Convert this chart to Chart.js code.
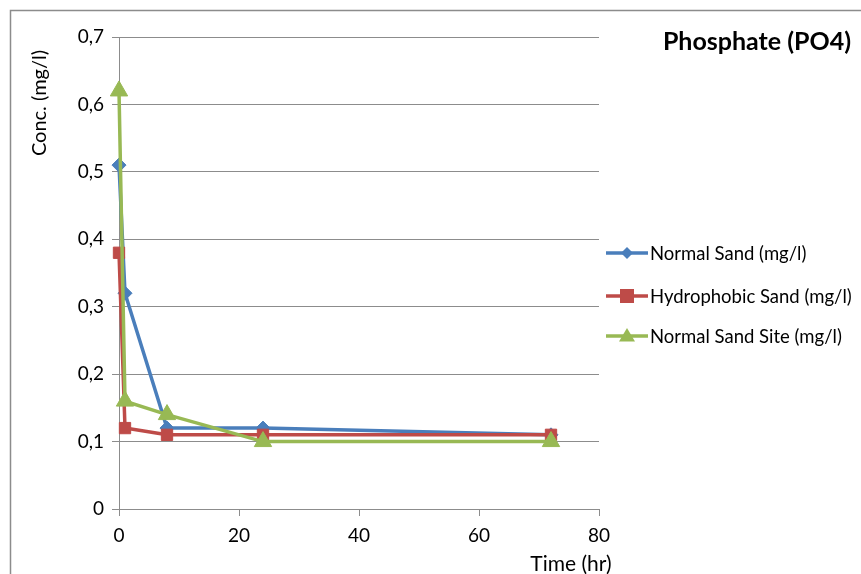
<!DOCTYPE html>
<html><head><meta charset="utf-8">
<script src="https://cdn.jsdelivr.net/npm/chart.js@4.4.1/dist/chart.umd.min.js"></script>
<style>html,body{margin:0;padding:0;background:#fff}#wrap{width:861px;height:574px}</style>
</head><body><div id="wrap"><canvas id="c" width="861" height="574"></canvas></div>
<script>
const times = [0, 1, 8, 24, 72];
const normalSand = [0.51, 0.32, 0.12, 0.12, 0.11];
const hydrophobicSand = [0.38, 0.12, 0.11, 0.11, 0.11];
const normalSandSite = [0.62, 0.16, 0.14, 0.10, 0.10];
const seriesNames = ['Normal Sand (mg/l)', 'Hydrophobic Sand (mg/l)', 'Normal Sand Site (mg/l)'];
const xTicks = [0, 20, 40, 60, 80];
const yTicks = [0, 0.1, 0.2, 0.3, 0.4, 0.5, 0.6, 0.7];

const FONT = 'Lato, "Open Sans", sans-serif';
const colors = ['#4A7EBB', '#BE4B48', '#98B954'];
const styles = ['rectRot', 'rect', 'triangle'];
const radii = [7, 8, 10];
const allSeries = [normalSand, hydrophobicSand, normalSandSite];

const datasets = allSeries.map((s, i) => ({
  label: seriesNames[i],
  data: times.map((t, j) => ({x: t, y: s[j]})),
  showLine: true,
  clip: false,
  order: allSeries.length - 1 - i,
  borderColor: colors[i],
  backgroundColor: colors[i],
  borderWidth: 3.5,
  pointStyle: styles[i],
  pointRadius: radii[i],
  pointHoverRadius: radii[i],
  pointBorderWidth: 1,
  pointBorderColor: colors[i]
}));

const deco = {
  id: 'deco',
  beforeDraw(chart) {
    const ctx = chart.ctx;
    ctx.save();
    ctx.fillStyle = '#fff';
    ctx.fillRect(0, 0, chart.width, chart.height);
    ctx.strokeStyle = '#8c8c8c';
    ctx.lineWidth = 1.5;
    ctx.beginPath();
    ctx.moveTo(10.5, 574);
    ctx.lineTo(10.5, 10.5);
    ctx.lineTo(861, 10.5);
    ctx.stroke();
    ctx.restore();
  },
  afterDraw(chart) {
    const ctx = chart.ctx;
    ctx.save();
    ctx.fillStyle = '#000';
    ctx.font = 'bold 25px ' + FONT;
    ctx.textAlign = 'center';
    ctx.textBaseline = 'middle';
    ctx.fillText('Phosphate (PO4)', 757, 42);
    ctx.font = '21px ' + FONT;
    ctx.fillText('Time (hr)', 571, 564);
    ctx.save();
    ctx.translate(40, 103);
    ctx.rotate(-Math.PI / 2);
    ctx.font = '20px ' + FONT;
    ctx.fillText('Conc. (mg/l)', 0, 0);
    ctx.restore();
    // legend
    const rows = [253, 296, 336];
    ctx.font = '18.5px ' + FONT;
    ctx.textAlign = 'left';
    rows.forEach((y, i) => {
      ctx.strokeStyle = colors[i];
      ctx.lineWidth = 3.5;
      ctx.beginPath();
      ctx.moveTo(606, y);
      ctx.lineTo(648, y);
      ctx.stroke();
      ctx.fillStyle = colors[i];
      const cx = 627, r = [6, 7, 8][i];
      ctx.beginPath();
      if (i === 0) {
        ctx.moveTo(cx, y - r); ctx.lineTo(cx + r, y); ctx.lineTo(cx, y + r); ctx.lineTo(cx - r, y);
      } else if (i === 1) {
        ctx.rect(cx - r, y - r, 2 * r, 2 * r);
      } else {
        ctx.moveTo(cx, y - r); ctx.lineTo(cx + r, y + r * 0.7); ctx.lineTo(cx - r, y + r * 0.7);
      }
      ctx.closePath();
      ctx.fill();
      ctx.fillStyle = '#000';
      ctx.fillText(seriesNames[i], 650, y + 1);
    });
    ctx.restore();
  }
};

new Chart(document.getElementById('c'), {
  type: 'scatter',
  data: { datasets },
  options: {
    responsive: false,
    animation: false,
    layout: { padding: { left: 0, right: 262, top: 37, bottom: 0 } },
    plugins: { legend: { display: false }, tooltip: { enabled: false }, title: { display: false } },
    scales: {
      x: {
        type: 'linear', min: 0, max: 80,
        afterBuildTicks: s => { s.ticks = xTicks.map(v => ({value: v})); },
        afterFit: s => { s.height = 65; },
        grid: { drawOnChartArea: false, drawTicks: true, tickLength: 7, color: '#8c8c8c' },
        border: { color: '#8c8c8c', width: 1 },
        ticks: { color: '#000', font: { family: FONT, size: 19 }, padding: 8, maxRotation: 0 }
      },
      y: {
        type: 'linear', min: 0, max: 0.7,
        afterBuildTicks: s => { s.ticks = yTicks.map(v => ({value: v})); },
        afterFit: s => { s.width = 119; },
        grid: { drawOnChartArea: true, drawTicks: true, tickLength: 7, color: '#8c8c8c' },
        border: { color: '#8c8c8c', width: 1 },
        ticks: { color: '#000', font: { family: FONT, size: 19 }, padding: 8,
          callback: v => v === 0 ? '0' : v.toFixed(1).replace('.', ',') }
      }
    }
  },
  plugins: [deco]
});
</script></body></html>
